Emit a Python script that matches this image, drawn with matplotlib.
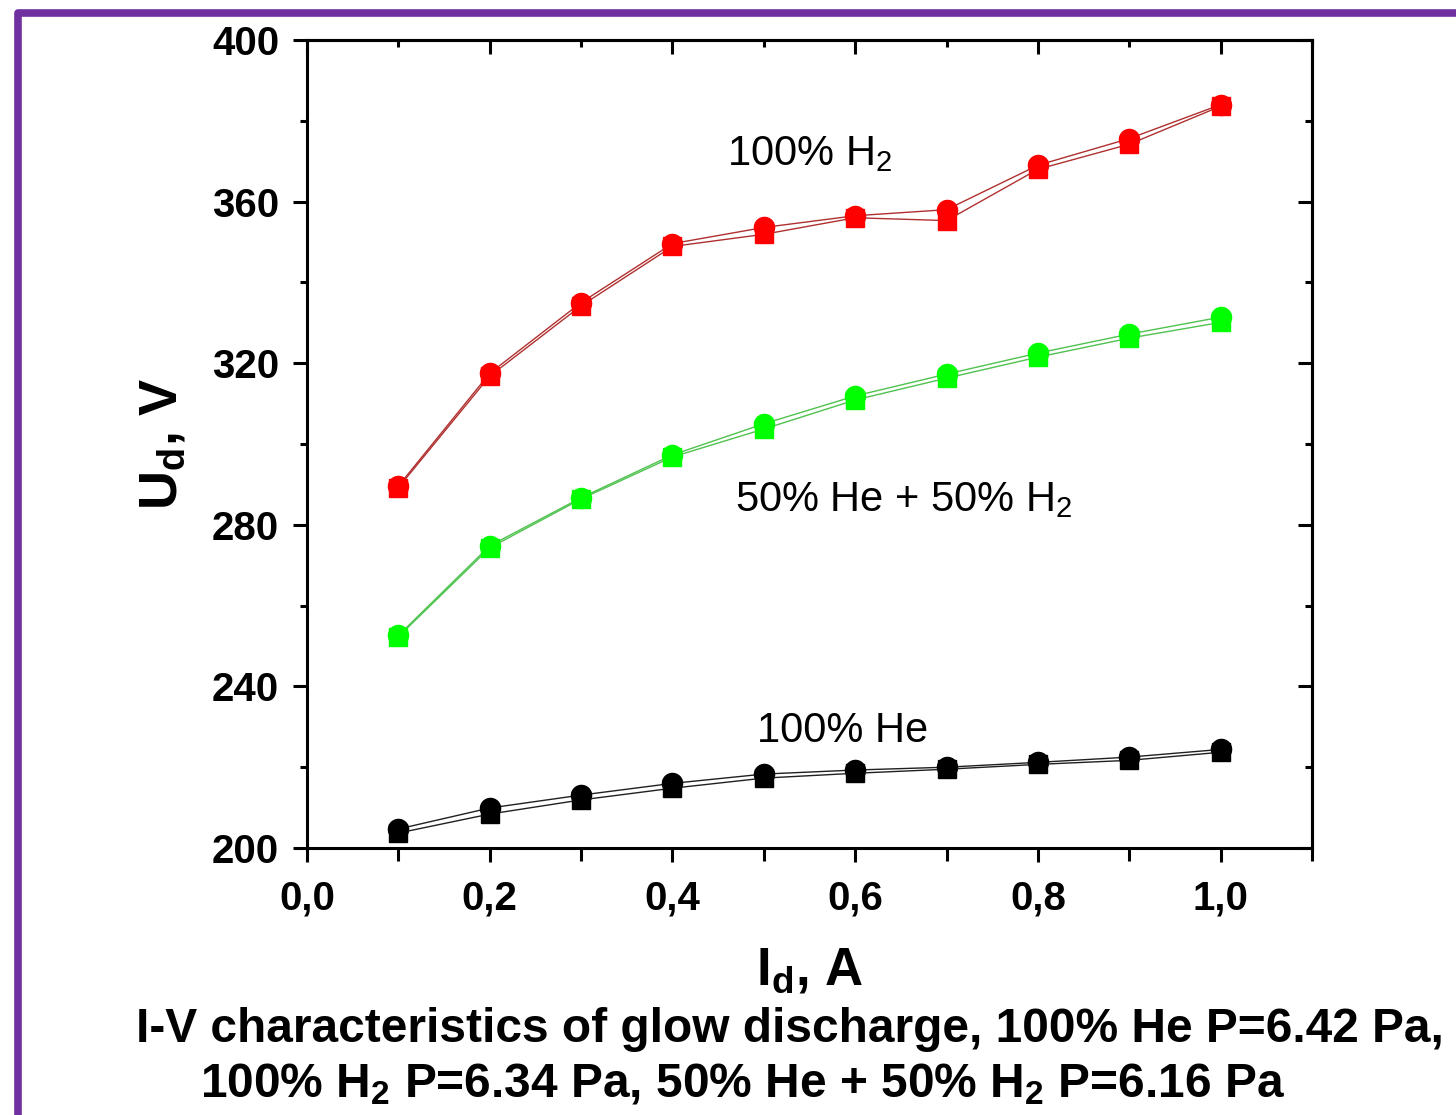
import matplotlib
matplotlib.use("Agg")
import matplotlib.pyplot as plt
from matplotlib.lines import Line2D
from matplotlib.ticker import MultipleLocator, FuncFormatter

plt.rcParams['font.family'] = ['Liberation Sans', 'DejaVu Sans']
plt.rcParams['mathtext.default'] = 'regular'

current = [0.1, 0.2, 0.3, 0.4, 0.5, 0.6, 0.7, 0.8, 0.9, 1.0]

# 100% H2 (two runs: circles, squares)
h2_circ = [289.6, 317.5, 335.0, 349.6, 353.6, 356.5, 358.0, 369.0, 375.6, 384.0]
h2_sq = [289.2, 316.8, 334.2, 348.9, 351.9, 356.0, 355.3, 368.0, 374.2, 383.6]

# 50% He + 50% H2
mix_circ = [252.6, 274.8, 286.7, 297.3, 305.0, 311.9, 317.3, 322.5, 327.2, 331.4]
mix_sq = [252.3, 274.3, 286.4, 296.8, 303.7, 310.9, 316.3, 321.5, 326.2, 330.1]

# 100% He
he_circ = [204.7, 209.9, 213.1, 216.0, 218.3, 219.3, 220.0, 221.2, 222.5, 224.4]
he_sq = [203.7, 208.4, 211.9, 214.8, 217.3, 218.5, 219.5, 220.7, 221.7, 223.7]

fig = plt.figure(figsize=(14.56, 11.15), dpi=100)
ax = fig.add_axes([307 / 1456, 1 - 848 / 1115, (1312 - 307) / 1456, (848 - 40) / 1115])

series = [
    (h2_circ, h2_sq, '#ff0000', '#b03030'),
    (mix_circ, mix_sq, '#00ff00', '#4fc24f'),
    (he_circ, he_sq, '#000000', '#202020'),
]
for circ, sq, mcol, lcol in series:
    ax.plot(current, circ, '-', color=lcol, lw=1.0, marker='o', ms=14.5,
            mfc=mcol, mec=mcol)
    ax.plot(current, sq, '-', color=lcol, lw=1.0, marker='s', ms=13.5,
            mfc=mcol, mec=mcol)

ax.set_xlim(0, 1.1)
ax.set_ylim(200, 400)
ax.xaxis.set_major_locator(MultipleLocator(0.2))
ax.xaxis.set_minor_locator(MultipleLocator(0.1))
ax.yaxis.set_major_locator(MultipleLocator(40))
ax.yaxis.set_minor_locator(MultipleLocator(20))
ax.xaxis.set_major_formatter(FuncFormatter(lambda v, p: f'{v:.1f}'.replace('.', ',')))
ax.yaxis.set_major_formatter(FuncFormatter(lambda v, p: f'{v:.0f}'))

for s in ax.spines.values():
    s.set_linewidth(2.2)

ax.tick_params(which='both', direction='out', width=2.2, top=False, right=False)
ax.tick_params(which='major', length=10)
ax.tick_params(which='minor', length=5)
ax.tick_params(axis='x', which='minor', length=9)
ax.tick_params(axis='x', pad=13)
ax.tick_params(axis='y', pad=10)
for lab in ax.get_xticklabels() + ax.get_yticklabels():
    lab.set_fontsize(29)
    lab.set_fontweight('bold')

# inward ticks on top and right
sec_x = ax.secondary_xaxis('top')
sec_x.xaxis.set_major_locator(MultipleLocator(0.2))
sec_x.xaxis.set_minor_locator(MultipleLocator(0.1))
sec_x.tick_params(which='both', direction='in', width=2.2, labeltop=False)
sec_x.tick_params(which='major', length=10)
sec_x.tick_params(which='minor', length=5)
sec_x.spines['top'].set_linewidth(2.2)
sec_y = ax.secondary_yaxis('right')
sec_y.yaxis.set_major_locator(MultipleLocator(40))
sec_y.yaxis.set_minor_locator(MultipleLocator(20))
sec_y.tick_params(which='both', direction='in', width=2.2, labelright=False)
sec_y.tick_params(which='major', length=10)
sec_y.tick_params(which='minor', length=5)
sec_y.spines['right'].set_linewidth(2.2)

ax.set_xlabel('I$_d$, A', fontsize=38, fontweight='bold', labelpad=20)
ax.set_ylabel('U$_d$, V', fontsize=39, fontweight='bold', labelpad=18)

ax.text(0.46, 369.1, '100% H$_2$', fontsize=30, ha='left', va='baseline')
ax.text(0.468, 283.5, '50% He + 50% H$_2$', fontsize=30, ha='left', va='baseline')
ax.text(0.492, 226.2, '100% He', fontsize=30, ha='left', va='baseline')

fig.text(790 / 1456, 1 - 1042 / 1115,
         'I-V characteristics of glow discharge, 100% He P=6.42 Pa,',
         fontsize=34.5, fontweight='bold', ha='center', va='baseline')
fig.text(742 / 1456, 1 - 1097 / 1115,
         '100% H$_2$ P=6.34 Pa, 50% He + 50% H$_2$ P=6.16 Pa',
         fontsize=34.5, fontweight='bold', ha='center', va='baseline')

# purple slide frame
fx = 18 / 1456
fy = 1 - 13 / 1115
fig.add_artist(Line2D([fx, fx, 1.05], [-0.05, fy, fy], transform=fig.transFigure,
                      color='#7030a0', lw=5.5, solid_joinstyle='round'))

fig.savefig('out.png', dpi=100)
